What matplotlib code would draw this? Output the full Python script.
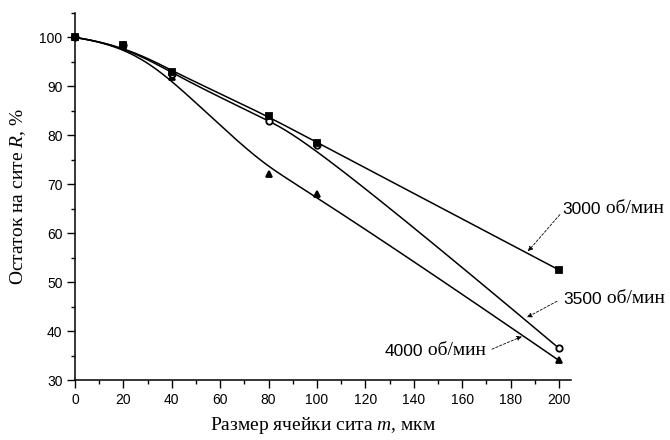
import numpy as np
import matplotlib
matplotlib.use('Agg')
import matplotlib.pyplot as plt
from matplotlib.ticker import MultipleLocator

# sieve cell size, um
cell_size = [0, 20, 40, 80, 100, 200]
# residue on sieve R, % for three rotor speeds
residue_3000 = [100, 98.5, 93, 84, 78.5, 52.5]
residue_3500 = [100, 98.5, 92.5, 83, 78, 36.5]
residue_4000 = [100, 98.5, 92, 72, 68, 34]

speed_labels = ['3000', '3500', '4000']
unit_label = ' об/мин'

SERIF = 'Liberation Serif'
SANS = 'Liberation Sans'


def bspline_line(x, y, n_pts=400, k=3):
    """Clamped cubic B-spline with the data points as control points
    (like the 'B-spline' connect type), only used to draw the line"""
    x = np.asarray(x, float)
    y = np.asarray(y, float)
    n = len(x)
    knots = np.concatenate([np.zeros(k), np.linspace(0, 1, n - k + 1), np.ones(k)])
    t = np.linspace(0, 1, n_pts)
    t[-1] = 1 - 1e-9
    basis = np.array([(knots[i] <= t) & (t < knots[i + 1]) for i in range(len(knots) - 1)], float)
    for d in range(1, k + 1):
        new = np.zeros((len(knots) - 1 - d, len(t)))
        for i in range(len(knots) - 1 - d):
            den1 = knots[i + d] - knots[i]
            den2 = knots[i + d + 1] - knots[i + 1]
            if den1 > 0:
                new[i] += (t - knots[i]) / den1 * basis[i]
            if den2 > 0:
                new[i] += (knots[i + d + 1] - t) / den2 * basis[i + 1]
        basis = new
    return basis.T @ x, basis.T @ y


def label_with_arrow(ax, speed, text_xy, start_xy, tip_xy, ha='left'):
    """Speed label: sans digits plus serif units, with a dashed arrow to the curve"""
    if ha == 'left':
        num = ax.annotate(speed, xy=text_xy, xycoords='data', ha='left', va='baseline',
                          fontsize=12.5, family=SANS, annotation_clip=False)
        ax.annotate(unit_label, xy=(1, 0), xycoords=num, ha='left', va='bottom',
                    fontsize=14, family=SERIF, annotation_clip=False)
    else:
        units = ax.annotate(unit_label, xy=text_xy, xycoords='data', ha='right', va='baseline',
                            fontsize=14, family=SERIF, annotation_clip=False)
        ax.annotate(speed, xy=(0, 0), xycoords=units, ha='right', va='bottom',
                    fontsize=12.5, family=SANS, annotation_clip=False)
    ax.annotate('', xy=tip_xy, xytext=start_xy, annotation_clip=False,
                arrowprops=dict(arrowstyle='-|>', color='black', lw=0.6, linestyle=(0, (3, 2)),
                                mutation_scale=7, shrinkA=0, shrinkB=0))


plt.rcParams['mathtext.fontset'] = 'custom'
plt.rcParams['mathtext.rm'] = SERIF
plt.rcParams['mathtext.it'] = SERIF + ':italic'

fig = plt.figure(figsize=(6.7, 4.4), dpi=100)
ax = fig.add_axes([75 / 670, 1 - 380 / 440, 496 / 670, 367 / 440])

series = [(residue_3000, 's', 'black'), (residue_3500, 'o', 'white'), (residue_4000, '^', 'black')]
for values, marker, face in series:
    bx, by = bspline_line(cell_size, values)
    ax.plot(bx, by, color='black', lw=1.1, zorder=2, clip_on=False)
for values, marker, face in reversed(series):
    ax.plot(cell_size, values, ls='none', marker=marker, ms=4.6, mfc=face, mec='black',
            mew=1.3, zorder=3, clip_on=False)

ax.set_xlim(0, 205)
ax.set_ylim(30, 105)
ax.xaxis.set_minor_locator(MultipleLocator(10))
ax.yaxis.set_minor_locator(MultipleLocator(5))
ax.set_xticks(np.arange(0, 201, 20))
ax.set_yticks(np.arange(30, 101, 10))
ax.tick_params(which='major', direction='out', length=6, width=1, labelsize=10, pad=3)
ax.tick_params(which='minor', direction='out', length=3, width=1)
for lab in ax.get_xticklabels() + ax.get_yticklabels():
    lab.set_family(SANS)
for side in ['top', 'right']:
    ax.spines[side].set_visible(False)
for side in ['left', 'bottom']:
    ax.spines[side].set_linewidth(1.1)

ax.set_xlabel('Размер ячейки сита $m$, мкм', family=SERIF, fontsize=14, labelpad=6)
ax.set_ylabel('Остаток на сите $R$, %', family=SERIF, fontsize=14, labelpad=8)

label_with_arrow(ax, speed_labels[0], (201.6, 64), (200.4, 63.8), (187.2, 56.3))
label_with_arrow(ax, speed_labels[1], (201.7, 45.5), (199.2, 46.1), (186.8, 42.8))
label_with_arrow(ax, speed_labels[2], (170.0, 35.2), (172.3, 36.3), (184.7, 38.9), ha='right')

fig.savefig('out.png', dpi=100)
